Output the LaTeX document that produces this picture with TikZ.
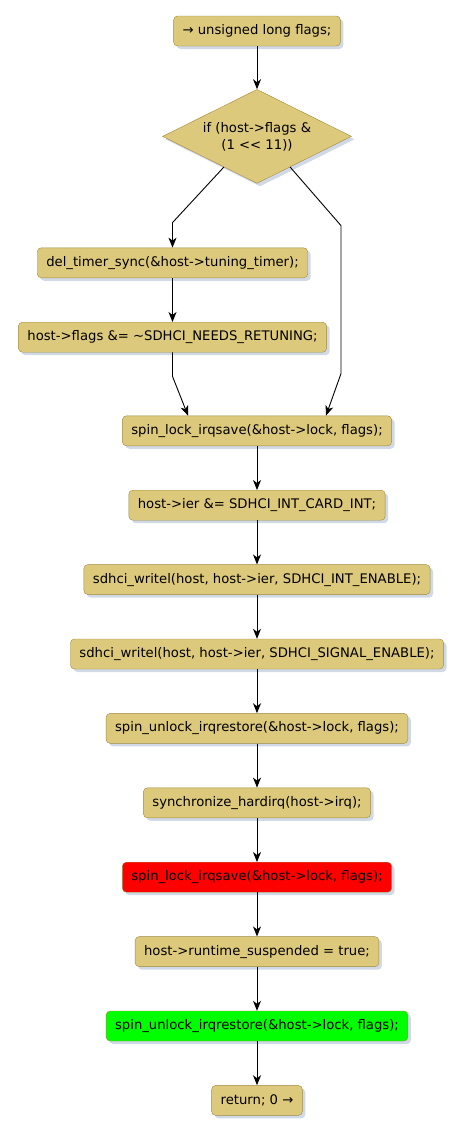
\documentclass[tikz,border=0pt]{standalone}
\usepackage{fontspec}
\setmainfont{DejaVu Sans}
\usetikzlibrary{arrows.meta,positioning,calc,shapes.geometric,shadows}
\definecolor{gold}{HTML}{DDC97C}
\definecolor{olive}{HTML}{A08A3E}
\definecolor{shade}{HTML}{A3B4CE}
\definecolor{lockred}{HTML}{FF0000}
\definecolor{unlockgreen}{HTML}{00FF00}
\tikzset{
  act/.style={draw=olive,fill=#1,rounded corners=4pt,font=\fontsize{13.2}{16}\selectfont,
    minimum height=30pt,inner xsep=9pt,inner ysep=2pt,
    drop shadow={shadow xshift=3pt,shadow yshift=-3pt,fill=shade}},
  act/.default=gold,
  cond/.style={diamond,aspect=2,draw=olive,fill=gold,font=\fontsize{13.2}{17}\selectfont,align=center,
    minimum width=189pt,minimum height=94pt,inner sep=0pt,
    drop shadow={shadow xshift=3pt,shadow yshift=-3pt,fill=shade}},
  flow/.style={-{Stealth[length=10pt,width=8pt,inset=3pt]},line width=0.9pt,draw=black},
}

\begin{document}
\begin{tikzpicture}[x=1pt,y=-1pt]
  \useasboundingbox (0,0) rectangle (463,1130);
  \node[act] (decl) at (257,31) {→ unsigned long flags;};
  \node[cond,below=43pt of decl] (dec) {if (host->flags \&\\(1 <{}< 11))};
  \node[act,below=64pt of dec,xshift=-84.5pt] (timer) {del\_timer\_sync(\&host->tuning\_timer);};
  \node[act,below=44pt of timer] (flags) {host->flags \&= \textasciitilde SDHCI\_NEEDS\_RETUNING;};
  \node[act,below=232pt of dec] (lock1) {spin\_lock\_irqsave(\&host->lock, flags);};
  \node[act,below=44pt of lock1] (ier) {host->ier \&= SDHCI\_INT\_CARD\_INT;};
  \node[act,below=44pt of ier] (wint) {sdhci\_writel(host, host->ier, SDHCI\_INT\_ENABLE);};
  \node[act,below=44pt of wint] (wsig) {sdhci\_writel(host, host->ier, SDHCI\_SIGNAL\_ENABLE);};
  \node[act,below=44pt of wsig] (unlock1) {spin\_unlock\_irqrestore(\&host->lock, flags);};
  \node[act,below=44pt of unlock1] (sync) {synchronize\_hardirq(host->irq);};
  \node[act=lockred,below=44pt of sync] (lock2) {spin\_lock\_irqsave(\&host->lock, flags);};
  \node[act,below=44pt of lock2] (susp) {host->runtime\_suspended = true;};
  \node[act=unlockgreen,below=44pt of susp] (unlock2) {spin\_unlock\_irqrestore(\&host->lock, flags);};
  \node[act,below=44pt of unlock2] (ret) {return; 0 →};
  % if branch and else branch
  \coordinate (rb) at ($(lock1.north)+(84,-42)$);
  \draw[flow] (decl) -- (dec);
  \draw[flow] ($(dec.south)!0.35!(dec.west)$) -- ($(timer.north)+(0,-25)$) -- (timer.north);
  \draw[flow] (timer) -- (flags);
  \draw[flow] (flags.south) -- ++(0,24) -- ($(lock1.north)+(-69,0)$);
  \draw[flow] ($(dec.south)!0.35!(dec.east)$) -- ($(rb)+(0,-148)$) -- (rb) -- ($(lock1.north)+(69,0)$);
  % straight run
  \foreach \a/\b in {lock1/ier,ier/wint,wint/wsig,wsig/unlock1,unlock1/sync,sync/lock2,lock2/susp,susp/unlock2,unlock2/ret}
    \draw[flow] (\a) -- (\b);
\end{tikzpicture}
\end{document}
